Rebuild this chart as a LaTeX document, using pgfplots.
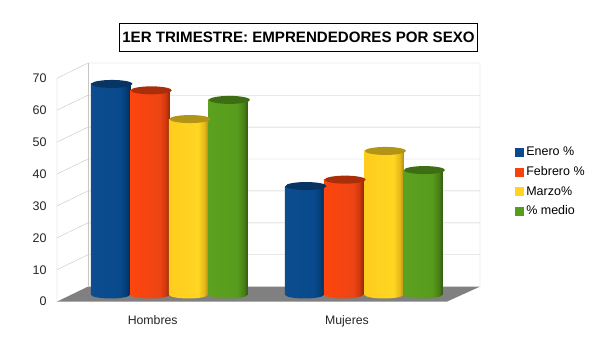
\documentclass[border=0pt]{standalone}
\usepackage{pgfplots}
\pgfplotsset{compat=1.18}
\usepackage{fontspec}
\setmainfont{Liberation Sans}
\usetikzlibrary{shapes.geometric}
\definecolor{cblue}{HTML}{0A4A8C}
\definecolor{cred}{HTML}{F5420F}
\definecolor{cyel}{HTML}{FFD320}
\definecolor{cgrn}{HTML}{579D1C}
\definecolor{gridc}{HTML}{C6C6C6}
\pgfdeclarehorizontalshading{sblue}{100bp}{rgb(0bp)=(0.05,0.30,0.56);rgb(25bp)=(0.05,0.30,0.56);rgb(62bp)=(0.03,0.29,0.55);rgb(70bp)=(0.02,0.24,0.46);rgb(75bp)=(0.01,0.17,0.33);rgb(100bp)=(0.01,0.17,0.33)}
\pgfdeclarehorizontalshading{sred}{100bp}{rgb(0bp)=(1,0.27,0.05);rgb(25bp)=(1,0.27,0.05);rgb(62bp)=(0.93,0.27,0.08);rgb(70bp)=(0.82,0.22,0.05);rgb(75bp)=(0.58,0.16,0.03);rgb(100bp)=(0.58,0.16,0.03)}
\pgfdeclarehorizontalshading{syel}{100bp}{rgb(0bp)=(1,0.80,0.12);rgb(25bp)=(1,0.80,0.12);rgb(62bp)=(1,0.84,0.13);rgb(70bp)=(0.90,0.72,0.10);rgb(75bp)=(0.68,0.55,0.08);rgb(100bp)=(0.68,0.55,0.08)}
\pgfdeclarehorizontalshading{sgrn}{100bp}{rgb(0bp)=(0.36,0.63,0.12);rgb(25bp)=(0.36,0.63,0.12);rgb(62bp)=(0.34,0.61,0.11);rgb(70bp)=(0.28,0.50,0.09);rgb(75bp)=(0.19,0.35,0.06);rgb(100bp)=(0.19,0.35,0.06)}
\pgfplotsset{
  cylbar/.style={ybar, bar width=39.5pt, bar shift=0pt, draw=none, shade, shading=#1},
  cylbase/.style={draw=none, mark=none, nodes near coords={},
    nodes near coords style={ellipse, minimum width=39.5pt, minimum height=8pt, inner sep=0pt, anchor=center, shade, shading=#1}},
  cyltop/.style={draw=none, mark=none, nodes near coords={},
    nodes near coords style={ellipse, minimum width=41pt, minimum height=8pt, inner sep=0pt, anchor=center, xshift=1.5pt, fill=#1}},
}
\begin{document}
\begin{tikzpicture}[x=1pt,y=1pt]
\path[use as bounding box, fill=white] (0,0) rectangle (600,357);
\begin{axis}[
  at={(57pt,55.4pt)}, anchor=south west, scale only axis,
  width=423pt, height=238.6pt,
  xmin=57, xmax=480, ymin=0, ymax=74.8,
  clip=false,
  axis line style={draw=none},
  major tick length=0pt,
  ytick={0,10,20,30,40,50,60,70},
  xtick={152.7,347}, xticklabels={Hombres,Mujeres},
  /pgf/number format/assume math mode=true,
  tick label style={font=\fontsize{12.5}{14}\selectfont, text=black!85},
  xticklabel style={font=\fontsize{12.3}{14}\selectfont, yshift=-10pt},
  yticklabel style={xshift=-7pt},
  title={\textbf{1ER TRIMESTRE: EMPRENDEDORES POR SEXO}},
  title style={at={(rel axis cs:0.5709,1.0837)}, anchor=center, draw=black, fill=white,
    minimum width=358pt, minimum height=27.5pt, inner sep=0pt, font=\fontsize{15.1}{16}\selectfont},
  legend style={at={(rel axis cs:1.0830,0.6560)}, anchor=north west, draw=none, fill=none,
    font=\fontsize{12.5}{14}\selectfont, row sep=5.2pt, inner sep=0pt, nodes={inner xsep=3pt}},
  legend cell align=left,
]
\addlegendimage{only marks, mark=square*, mark size=4pt, mark options={draw=cblue, fill=cblue}}
\addlegendentry{Enero \%}
\addlegendimage{only marks, mark=square*, mark size=4pt, mark options={draw=cred, fill=cred}}
\addlegendentry{Febrero \%}
\addlegendimage{only marks, mark=square*, mark size=4pt, mark options={draw=cyel, fill=cyel}}
\addlegendentry{Marzo\%}
\addlegendimage{only marks, mark=square*, mark size=4pt, mark options={draw=cgrn, fill=cgrn}}
\addlegendentry{\% medio}
% floor
\addplot[fill=black!50, draw=none, forget plot] coordinates {(57,0)(447,0)(480,4.7)(88,4.7)};
% walls
\addplot[gridc, forget plot] coordinates {(57,0)(57,70)(88,74.8)(480,74.8)(480,4.7)};
\addplot[gridc, forget plot] coordinates {(88,4.7)(88,74.8)};
\addplot[gridc, forget plot] coordinates {(57,10)(88,14.7)(480,14.7)};
\addplot[gridc, forget plot] coordinates {(57,20)(88,24.7)(480,24.7)};
\addplot[gridc, forget plot] coordinates {(57,30)(88,34.7)(480,34.7)};
\addplot[gridc, forget plot] coordinates {(57,40)(88,44.7)(480,44.7)};
\addplot[gridc, forget plot] coordinates {(57,50)(88,54.7)(480,54.7)};
\addplot[gridc, forget plot] coordinates {(57,60)(88,64.7)(480,64.7)};
\end{axis}
\begin{axis}[
  at={(57pt,55.4pt)}, anchor=south west, scale only axis,
  width=423pt, height=238.6pt,
  xmin=57, xmax=480, ymin=-2.23, ymax=72.57,
  clip=false, hide axis,
]
% Enero %
\addplot[cylbase=sblue] coordinates {(110.5,0)(304.5,0)};
\addplot[cylbar=sblue] coordinates {(110.5,66)};
\addplot[cylbar=sblue] coordinates {(304.5,34)};
\addplot[cyltop=cblue!70!black] coordinates {(110.5,66)(304.5,34)};
% Febrero %
\addplot[cylbase=sred] coordinates {(149.8,0)(343.7,0)};
\addplot[cylbar=sred] coordinates {(149.8,64)};
\addplot[cylbar=sred] coordinates {(343.7,36)};
\addplot[cyltop=cred!70!black] coordinates {(149.8,64)(343.7,36)};
% Marzo%
\addplot[cylbase=syel] coordinates {(188.5,0)(384,0)};
\addplot[cylbar=syel] coordinates {(188.5,55)};
\addplot[cylbar=syel] coordinates {(384,45)};
\addplot[cyltop=cyel!70!black] coordinates {(188.5,55)(384,45)};
% % medio
\addplot[cylbase=sgrn] coordinates {(228,0)(423,0)};
\addplot[cylbar=sgrn] coordinates {(228,61)};
\addplot[cylbar=sgrn] coordinates {(423,39)};
\addplot[cyltop=cgrn!70!black] coordinates {(228,61)(423,39)};
\end{axis}
\end{tikzpicture}
\end{document}
